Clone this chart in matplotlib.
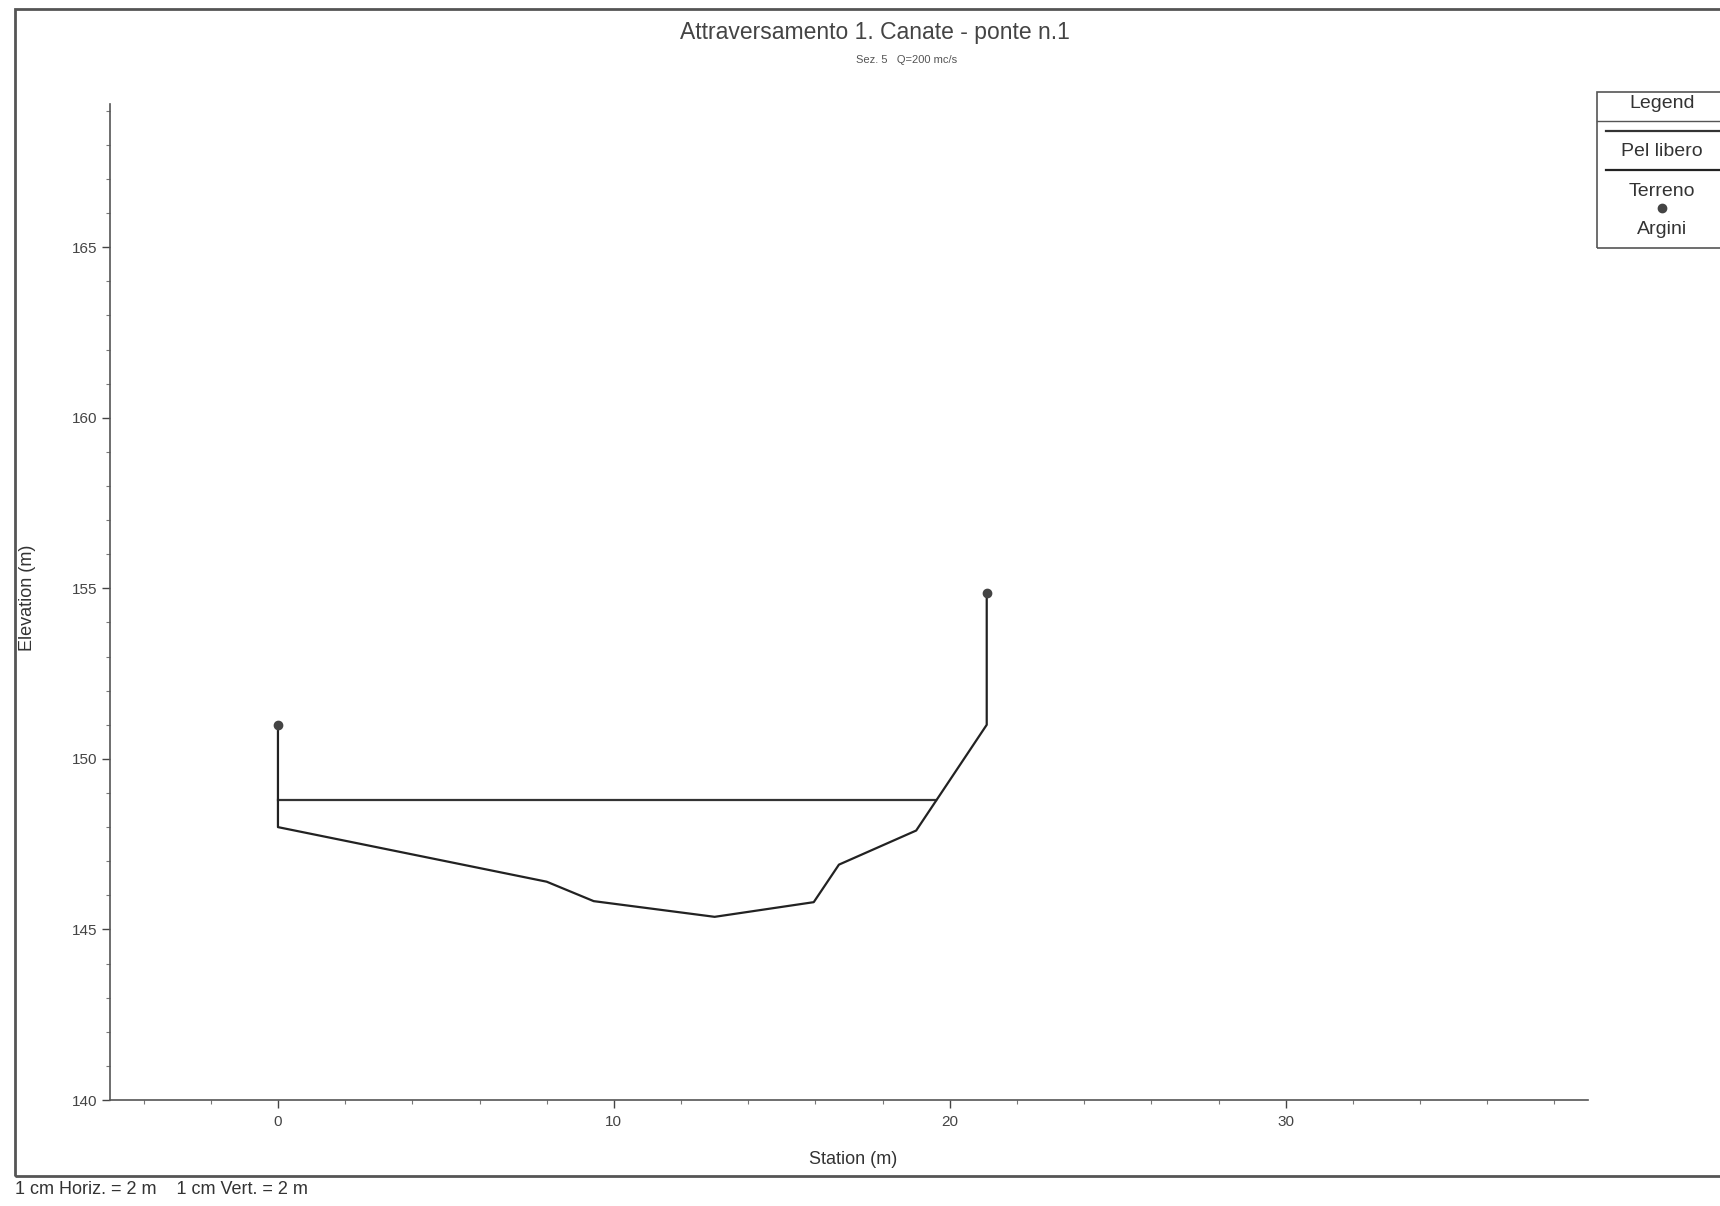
import matplotlib.pyplot as plt
from matplotlib.patches import Rectangle
from matplotlib.lines import Line2D
from matplotlib.ticker import MultipleLocator
import numpy as np

plt.rcParams['font.family'] = ['Liberation Sans', 'DejaVu Sans']

# cross-section data (station m, elevation m)
terreno_station = [0.0, 0.0, 8.0, 9.4, 13.0, 15.95, 16.7, 19.0, 21.1, 21.1]
terreno_elev = [151.0, 148.0, 146.4, 145.83, 145.37, 145.8, 146.9, 147.9, 151.0, 154.85]
argini_station = [0.0, 21.1]
argini_elev = [151.0, 154.85]
ws_station = [0.0, 19.6]
ws_elev = [148.8, 148.8]

x_ticks = [0, 10, 20, 30]
y_ticks = [140, 145, 150, 155, 160, 165]

W, H = 1720, 1206
fig = plt.figure(figsize=(W / 100, H / 100), dpi=100)

def fx(px):
    return px / W

def fy(py):
    return 1 - py / H

ax = fig.add_axes([fx(110), fy(1100), fx(1588) - fx(110), fy(104) - fy(1100)])
ax.plot(ws_station, ws_elev, color="#333333", lw=1.6)
ax.plot(terreno_station, terreno_elev, color="#222222", lw=1.6)
ax.plot(argini_station, argini_elev, "o", color="#444444", ms=6, lw=0)

ax.set_xlim(-5, 39)
ax.set_ylim(140, 169.2)
ax.set_xticks(x_ticks)
ax.set_yticks(y_ticks)
ax.xaxis.set_minor_locator(MultipleLocator(2))
ax.yaxis.set_minor_locator(MultipleLocator(1))
ax.tick_params(which="major", length=6, width=1, labelsize=11, colors="#444444", pad=5)
ax.tick_params(axis="y", which="major", pad=3)
ax.tick_params(which="minor", length=3, width=0.8, colors="#777777")
for s in ["top", "right"]:
    ax.spines[s].set_visible(False)
for s in ["left", "bottom"]:
    ax.spines[s].set_color("#555555")
    ax.spines[s].set_linewidth(1.2)

fig.text(fx(853), fy(1160), "Station (m)", ha="center", va="center", fontsize=13, color="#333333")
fig.text(fx(27), fy(598), "Elevation (m)", ha="center", va="center", rotation=90, fontsize=13, color="#333333")

fig.text(fx(875), fy(32), "Attraversamento 1. Canate - ponte n.1", ha="center", va="center",
         fontsize=16.5, color="#444444")
fig.text(fx(907), fy(60), "Sez. 5   Q=200 mc/s", ha="center", va="center", fontsize=8, color="#555555")
fig.text(fx(15), fy(1190), "1 cm Horiz. = 2 m    1 cm Vert. = 2 m", ha="left", va="center",
         fontsize=13, color="#333333")

# outer frame
fig.add_artist(Rectangle((fx(15), fy(1176)), 1.2, fy(9) - fy(1176), transform=fig.transFigure,
                         fill=False, ec="#555555", lw=2))

# legend box
fig.add_artist(Rectangle((fx(1597), fy(248)), 0.2, fy(92) - fy(248), transform=fig.transFigure,
                         fill=False, ec="#555555", lw=1.2))
fig.add_artist(Line2D([fx(1597), 1.0], [fy(121), fy(121)], transform=fig.transFigure, color="#555555", lw=1))
fig.add_artist(Line2D([fx(1606), 1.0], [fy(131), fy(131)], transform=fig.transFigure, color="#333333", lw=1.6))
fig.add_artist(Line2D([fx(1606), 1.0], [fy(170), fy(170)], transform=fig.transFigure, color="#222222", lw=1.6))
fig.add_artist(Line2D([fx(1662)], [fy(208)], transform=fig.transFigure, marker="o", color="#444444", ms=6, lw=0))
fig.text(fx(1662), fy(104), "Legend", ha="center", va="center", fontsize=14, color="#333333")
fig.text(fx(1662), fy(151), "Pel libero", ha="center", va="center", fontsize=14, color="#333333")
fig.text(fx(1662), fy(191), "Terreno", ha="center", va="center", fontsize=14, color="#333333")
fig.text(fx(1662), fy(230), "Argini", ha="center", va="center", fontsize=14, color="#333333")

plt.savefig("out.png", dpi=100)
